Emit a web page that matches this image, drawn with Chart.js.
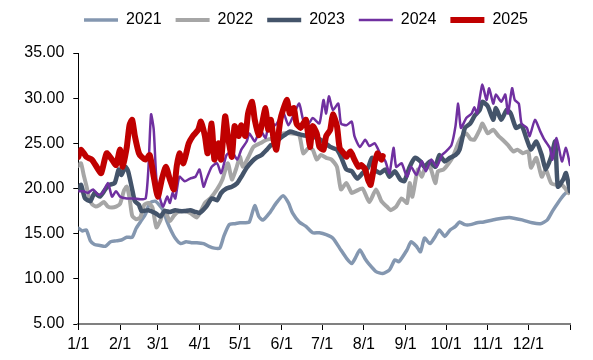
<!DOCTYPE html>
<html><head><meta charset="utf-8">
<script src="https://cdn.jsdelivr.net/npm/chart.js@4"></script>
<style>html,body{margin:0;padding:0;background:#fff}#wrap{width:593px;height:360px}</style>
</head><body><div id="wrap"><canvas id="c" width="593" height="360"></canvas></div>
<script>
// ---- data (day of year, value) ----
const seriesNames = ['2021', '2022', '2023', '2024', '2025'];
const monthStartDays = [0, 31, 59, 90, 120, 151, 181, 212, 243, 273, 304, 334, 365];
const monthLabels = ['1/1', '2/1', '3/1', '4/1', '5/1', '6/1', '7/1', '8/1', '9/1', '10/1', '11/1', '12/1', ''];
const yTickValues = [5, 10, 15, 20, 25, 30, 35];

const s2021 = [[0,15.6],[3,15.3],[6,15.4],[9,14.2],[12,13.8],[16,13.7],[20,13.6],[24,14.1],[28,14.2],[32,14.3],[36,14.6],[40,14.6],[43,15.6],[47,16.5],[50,17.2],[53,18.4],[57,18.6],[60,18.2],[63,17.6],[66,16.3],[69,15.3],[72,14.5],[76,13.9],[80,14.1],[84,14.0],[88,14.0],[93,13.9],[97,13.6],[101,13.4],[105,13.4],[108,14.7],[112,16.0],[116,16.1],[120,16.2],[124,16.2],[127,16.3],[131,18.1],[134,16.9],[137,16.5],[142,17.3],[147,18.4],[152,19.2],[156,18.4],[159,17.3],[164,16.3],[169,15.8],[174,15.1],[179,15.1],[184,14.9],[189,14.5],[194,13.4],[199,12.3],[203,11.7],[206,12.4],[209,13.2],[213,12.2],[216,11.6],[221,10.8],[226,10.6],[231,11.0],[235,12.1],[238,11.9],[244,13.2],[247,14.1],[251,13.6],[254,13.0],[257,14.5],[261,13.9],[265,14.7],[268,15.4],[272,14.7],[276,15.4],[280,15.8],[283,16.3],[287,16.0],[291,16.0],[296,16.2],[301,16.3],[310,16.6],[320,16.8],[330,16.5],[337,16.2],[343,16.1],[348,16.5],[352,17.5],[356,18.4],[360,19.2],[364,19.8]];

const s2022 = [[0,22.5],[2,22.8],[4,21.5],[6,20.3],[8,19.0],[10,18.3],[13,18.0],[16,18.2],[19,18.5],[22,18.0],[25,17.9],[28,18.0],[31,18.3],[34,19.8],[36,20.2],[38,19.0],[40,17.0],[43,16.6],[46,16.8],[49,18.2],[52,18.4],[55,17.9],[58,15.7],[61,16.5],[64,17.6],[68,16.4],[71,17.0],[74,17.4],[78,17.5],[83,17.3],[88,16.8],[91,17.5],[94,18.4],[98,18.9],[103,19.9],[107,21.0],[111,22.8],[114,21.0],[117,22.1],[120,23.5],[122,22.4],[126,23.4],[130,24.6],[135,25.0],[140,25.4],[146,25.6],[152,26.1],[159,26.1],[164,25.9],[167,23.9],[171,24.5],[174,24.3],[177,23.2],[180,23.7],[184,23.4],[188,23.2],[192,22.4],[195,19.9],[199,20.6],[203,19.5],[206,19.7],[211,20.0],[216,18.5],[221,19.9],[225,18.6],[229,18.0],[232,17.6],[236,18.0],[240,18.9],[244,18.4],[246,20.6],[248,19.1],[252,22.1],[255,21.3],[257,22.1],[261,22.4],[265,20.6],[267,21.9],[271,22.1],[275,22.8],[278,23.5],[282,25.0],[284,25.6],[288,26.1],[291,25.5],[294,25.4],[298,26.5],[300,27.2],[304,26.1],[308,26.5],[312,25.8],[315,25.4],[319,24.8],[323,24.1],[326,24.3],[330,23.9],[334,24.1],[336,22.3],[340,23.4],[344,21.3],[347,22.1],[351,20.6],[355,20.4],[359,20.4],[364,19.5]];

const s2023 = [[0,20.0],[2,20.4],[5,18.9],[9,18.6],[12,19.5],[16,19.1],[20,19.9],[23,20.4],[27,20.6],[30,22.1],[32,21.5],[35,22.4],[37,21.9],[40,19.9],[42,18.6],[45,18.2],[47,17.5],[52,17.6],[57,17.3],[61,16.9],[64,17.5],[68,17.4],[72,17.6],[75,17.5],[79,17.5],[83,17.6],[87,17.4],[90,17.3],[95,18.0],[99,18.9],[103,18.7],[106,19.5],[110,20.0],[114,20.2],[118,20.6],[121,21.3],[125,22.3],[129,23.0],[132,23.4],[136,23.7],[140,24.3],[143,24.8],[146,25.0],[150,25.6],[154,26.0],[157,26.3],[162,26.1],[167,25.9],[172,25.8],[177,25.6],[182,25.2],[187,24.6],[192,24.3],[195,23.5],[199,22.1],[203,21.9],[207,21.1],[211,21.7],[215,22.3],[218,23.4],[220,22.1],[224,21.7],[228,22.1],[231,21.3],[235,21.9],[239,21.0],[242,20.8],[246,22.4],[250,23.4],[254,23.0],[257,22.4],[261,23.0],[265,22.4],[268,23.7],[272,23.0],[276,23.4],[280,23.7],[283,24.3],[287,26.7],[291,27.2],[294,28.0],[298,28.7],[300,29.6],[304,29.1],[308,27.6],[310,28.9],[314,27.6],[318,28.7],[321,28.3],[325,26.7],[329,27.0],[333,25.4],[336,24.3],[340,25.2],[344,23.7],[347,22.1],[351,23.5],[354,25.2],[356,20.2],[360,21.0],[362,21.7],[365,19.7]];

const s2024 = [[0,19.7],[4,19.7],[7,19.5],[11,19.9],[15,19.3],[18,19.5],[22,20.6],[25,19.1],[28,19.7],[31,19.1],[36,18.9],[41,18.9],[46,18.8],[50,18.9],[52,22.1],[54,28.2],[56,26.5],[58,21.0],[61,18.7],[63,18.0],[66,19.1],[68,18.4],[70,19.5],[72,18.9],[75,21.3],[79,20.8],[83,21.1],[87,21.3],[90,22.1],[93,20.2],[95,21.0],[99,22.4],[103,22.8],[106,21.7],[110,23.7],[114,24.1],[118,23.2],[121,24.3],[125,25.2],[127,26.1],[131,25.2],[135,26.5],[139,25.6],[142,27.6],[146,27.0],[149,27.6],[152,28.5],[156,27.0],[160,28.2],[164,29.4],[167,27.6],[171,27.2],[174,27.8],[179,27.2],[182,29.8],[184,28.3],[186,30.2],[189,28.7],[193,29.4],[195,27.2],[199,27.0],[203,27.4],[205,25.8],[209,24.6],[213,25.4],[216,24.7],[220,25.0],[224,23.9],[228,23.0],[231,21.7],[234,24.5],[236,22.4],[240,22.8],[244,21.3],[247,22.4],[251,21.5],[255,23.0],[258,21.9],[262,23.2],[266,22.4],[270,23.7],[273,24.1],[277,24.8],[280,26.9],[282,29.4],[284,26.7],[288,27.8],[292,28.3],[294,29.0],[296,28.3],[298,30.0],[300,31.5],[303,29.8],[305,31.1],[308,29.4],[310,30.4],[314,29.6],[317,30.4],[319,28.3],[322,31.1],[324,29.8],[327,29.4],[329,27.2],[333,26.7],[335,25.8],[339,27.6],[343,26.3],[346,25.4],[350,24.5],[352,23.2],[355,25.6],[359,23.0],[362,24.5],[365,22.6]];

const s2025 = [[0,23.5],[2,24.3],[6,23.5],[10,23.2],[14,22.3],[17,21.7],[21,23.9],[25,23.2],[28,22.6],[31,24.3],[33,22.4],[36,24.6],[38,27.0],[40,27.6],[42,25.8],[45,23.9],[47,23.5],[50,23.2],[53,23.7],[56,21.3],[59,19.1],[62,21.0],[65,22.4],[68,21.0],[71,19.9],[73,22.4],[75,23.9],[78,22.8],[82,25.0],[85,25.8],[89,26.5],[91,27.4],[94,25.8],[96,23.9],[99,27.2],[101,23.2],[104,25.0],[106,23.2],[109,28.0],[111,25.8],[114,23.5],[116,26.9],[119,25.8],[121,27.0],[124,25.8],[126,28.3],[129,29.6],[131,27.6],[134,25.9],[136,26.9],[139,28.9],[141,26.5],[143,27.6],[145,25.4],[147,24.3],[150,27.6],[152,28.7],[155,29.8],[157,28.3],[160,28.9],[162,27.2],[165,26.7],[167,27.2],[169,27.6],[172,24.6],[174,26.9],[177,26.1],[179,24.6],[182,24.3],[184,25.8],[187,26.5],[189,28.2],[192,26.9],[194,24.5],[197,23.9],[199,23.5],[202,24.1],[205,23.2],[208,22.4],[210,22.6],[213,22.1],[215,21.0],[217,20.4],[220,22.8],[222,23.9],[225,23.2],[226,23.6]];

const seriesData = [s2021, s2022, s2023, s2024, s2025];
const seriesColors = ['#8497B0', '#A6A6A6', '#44546A', '#7030A0', '#C00000'];
const seriesWidths = [3.5, 4, 4.5, 2.5, 6];
const seriesOrder = [4, 3, 2, 1, 0];

const FONT = "'Liberation Sans', Arial, sans-serif";

// reserve the space above the plot for the legend, and place the legend row
const legendSpace = {
  id: 'legendSpace',
  beforeLayout(chart) {
    const lg = chart.legend;
    if (lg && !lg.__patched) {
      const fit = lg.fit;
      lg.fit = function () { fit.call(this); this.height = 53; };
      lg.__patched = true;
    }
  },
  afterLayout(chart) {
    const lg = chart.legend;
    if (lg) {
      lg.left = 42; lg.right = 570; lg.width = 528;
      lg.top = -2; lg.bottom = 51;
    }
  }
};

new Chart(document.getElementById('c'), {
  type: 'line',
  data: {
    datasets: seriesNames.map((name, i) => ({
      label: name,
      data: seriesData[i].map(p => ({ x: p[0], y: p[1] })),
      borderColor: seriesColors[i],
      backgroundColor: seriesColors[i],
      borderWidth: seriesWidths[i],
      pointRadius: 0,
      pointHoverRadius: 0,
      tension: 0.2,
      fill: false,
      borderCapStyle: 'round',
      borderJoinStyle: 'round',
      order: seriesOrder[i]
    }))
  },
  options: {
    responsive: false,
    animation: false,
    events: [],
    layout: { padding: { left: 0, right: 23, top: 0, bottom: 0 } },
    plugins: {
      tooltip: { enabled: false },
      legend: {
        position: 'top',
        align: 'center',
        labels: {
          usePointStyle: true,
          pointStyle: 'line',
          pointStyleWidth: 34,
          padding: 14,
          color: '#000',
          font: { size: 16, family: FONT },
          sort: (a, b) => a.datasetIndex - b.datasetIndex
        }
      }
    },
    scales: {
      x: {
        type: 'linear',
        min: 0,
        max: 365,
        afterBuildTicks: s => { s.ticks = monthStartDays.map(v => ({ value: v })); },
        afterFit: s => { s.height = 36; },
        ticks: {
          autoSkip: false,
          maxRotation: 0,
          padding: 5,
          color: '#000',
          font: { size: 16, family: FONT },
          callback: (v, i) => monthLabels[i]
        },
        grid: { display: true, drawOnChartArea: false, drawTicks: true, tickLength: 6, color: '#000', lineWidth: 1 },
        border: { display: true, color: '#808080', width: 2 }
      },
      y: {
        type: 'linear',
        min: 5,
        max: 35,
        afterBuildTicks: s => { s.ticks = yTickValues.map(v => ({ value: v })); },
        afterFit: s => { s.width = 78.3; },
        ticks: {
          padding: 9,
          color: '#000',
          font: { size: 16, family: FONT },
          callback: v => Number(v).toFixed(2)
        },
        grid: { display: true, drawOnChartArea: false, drawTicks: true, tickLength: 5, color: '#000', lineWidth: 1 },
        border: { display: true, color: '#000', width: 1 }
      }
    }
  },
  plugins: [legendSpace]
});
</script>
</body></html>
